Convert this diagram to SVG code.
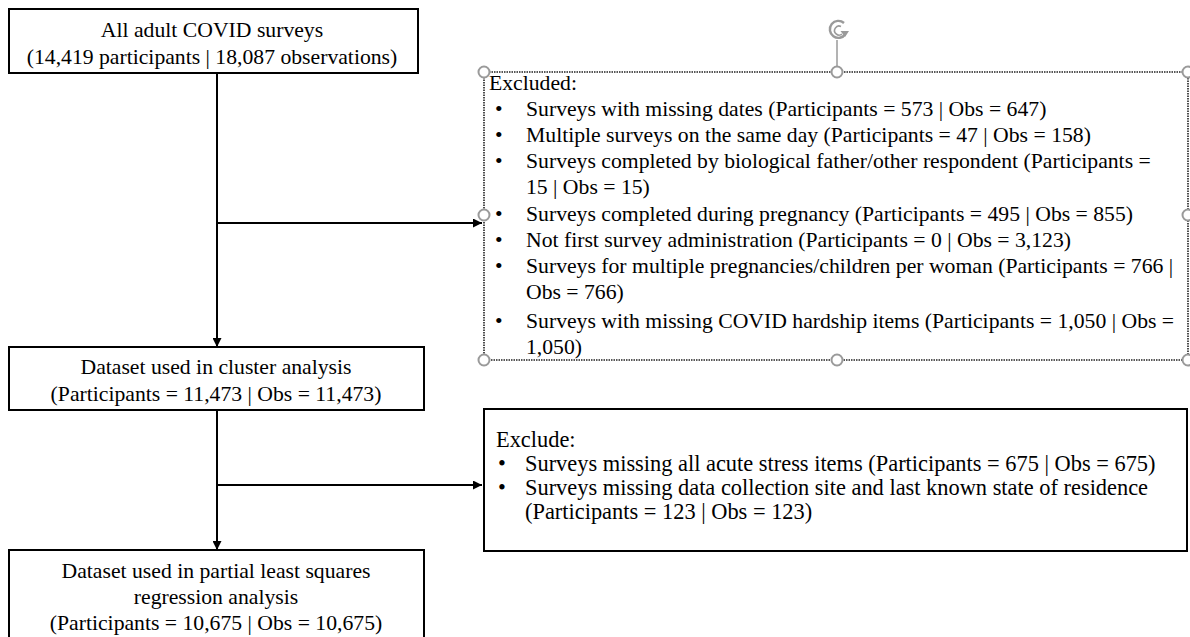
<svg xmlns="http://www.w3.org/2000/svg" width="1190" height="637" viewBox="0 0 1190 637">
<defs>
<style>
.box{fill:#fff;stroke:#000;stroke-width:2}
.sel{fill:#fff;stroke:#222;stroke-width:1.6;stroke-dasharray:1.5 1}
.t{font-size:21.7px;fill:#000}
.t2{font-size:22.4px;fill:#000}
.c{text-anchor:middle}
.ln{fill:none;stroke:#000;stroke-width:2}
.h{fill:#fff;stroke:#9a9a9a;stroke-width:2}
</style>
<marker id="arr" viewBox="0 0 10 10" refX="10" refY="5" markerWidth="4.5" markerHeight="4.5" orient="auto" markerUnits="strokeWidth">
<path d="M0,0 L10,5 L0,10 z" fill="#000"/>
</marker>
</defs>
<rect width="1190" height="637" fill="#fff"/>

<g id="connectors">
<line class="ln" x1="217" y1="73" x2="217" y2="347" marker-end="url(#arr)"/>
<line class="ln" x1="217" y1="223" x2="482" y2="223" marker-end="url(#arr)"/>
<line class="ln" x1="217" y1="405" x2="217" y2="550" marker-end="url(#arr)"/>
<line class="ln" x1="217" y1="485" x2="482" y2="485" marker-end="url(#arr)"/>
</g>

<g font-family="Liberation Serif, Times New Roman, serif">
<g id="node-all">
<rect class="box" x="9" y="9" width="409" height="64"/>
<text class="t c" x="212" y="37">All adult COVID surveys</text>
<text class="t c" x="212" y="64">(14,419 participants | 18,087 observations)</text>
</g>

<g id="node-cluster">
<rect class="box" x="9" y="347" width="415" height="63"/>
<text class="t c" x="216" y="374">Dataset used in cluster analysis</text>
<text class="t c" x="216" y="401">(Participants = 11,473 | Obs = 11,473)</text>
</g>

<g id="node-pls">
<rect class="box" x="9" y="550" width="415" height="100"/>
<text class="t c" x="216" y="578">Dataset used in partial least squares</text>
<text class="t c" x="216" y="604">regression analysis</text>
<text class="t c" x="216" y="630">(Participants = 10,675 | Obs = 10,675)</text>
</g>

<g id="node-excluded">
<line x1="837" y1="40" x2="837" y2="66" stroke="#9a9a9a" stroke-width="1.5"/>
<path d="M844,23 A8.5,8.5 0 1 0 845.5,34" fill="none" stroke="#9a9a9a" stroke-width="2.4"/>
<path d="M841,26.5 A4.5,4.5 0 1 0 842,34" fill="none" stroke="#9a9a9a" stroke-width="1.6"/>
<path d="M840.5,31 L849,31 L845,37 z" fill="#9a9a9a"/>
<rect class="sel" x="484" y="72" width="704" height="288"/>
<text class="t" x="489" y="90">Excluded:</text>
<g class="t">
<text x="495" y="116">•</text><text x="526" y="116">Surveys with missing dates (Participants = 573 | Obs = 647)</text>
<text x="495" y="142">•</text><text x="526" y="142">Multiple surveys on the same day (Participants = 47 | Obs = 158)</text>
<text x="495" y="168">•</text><text x="526" y="168">Surveys completed by biological father/other respondent (Participants =</text>
<text x="526" y="194">15 | Obs = 15)</text>
<text x="495" y="221">•</text><text x="526" y="221">Surveys completed during pregnancy (Participants = 495 | Obs = 855)</text>
<text x="495" y="247">•</text><text x="526" y="247">Not first survey administration (Participants = 0 | Obs = 3,123)</text>
<text x="495" y="273">•</text><text x="526" y="273">Surveys for multiple pregnancies/children per woman (Participants = 766 |</text>
<text x="526" y="299">Obs = 766)</text>
<text x="495" y="328">•</text><text x="526" y="328">Surveys with missing COVID hardship items (Participants = 1,050 | Obs =</text>
<text x="526" y="354">1,050)</text>
</g>
<circle class="h" cx="484" cy="72" r="5.5"/>
<circle class="h" cx="837" cy="72" r="5.5"/>
<circle class="h" cx="1188" cy="72" r="5.5"/>
<circle class="h" cx="484" cy="215" r="5.5"/>
<circle class="h" cx="1188" cy="215" r="5.5"/>
<circle class="h" cx="484" cy="360" r="5.5"/>
<circle class="h" cx="837" cy="360" r="5.5"/>
<circle class="h" cx="1188" cy="360" r="5.5"/>
</g>

<g id="node-exclude2">
<rect class="box" x="484" y="409" width="703" height="142"/>
<text class="t2" x="496" y="447">Exclude:</text>
<text class="t2" x="498" y="471">•</text><text class="t2" x="525" y="471">Surveys missing all acute stress items (Participants = 675 | Obs = 675)</text>
<text class="t2" x="498" y="495">•</text><text class="t2" x="525" y="495">Surveys missing data collection site and last known state of residence</text>
<text class="t2" x="525" y="519">(Participants = 123 | Obs = 123)</text>
</g>
</g>
</svg>
